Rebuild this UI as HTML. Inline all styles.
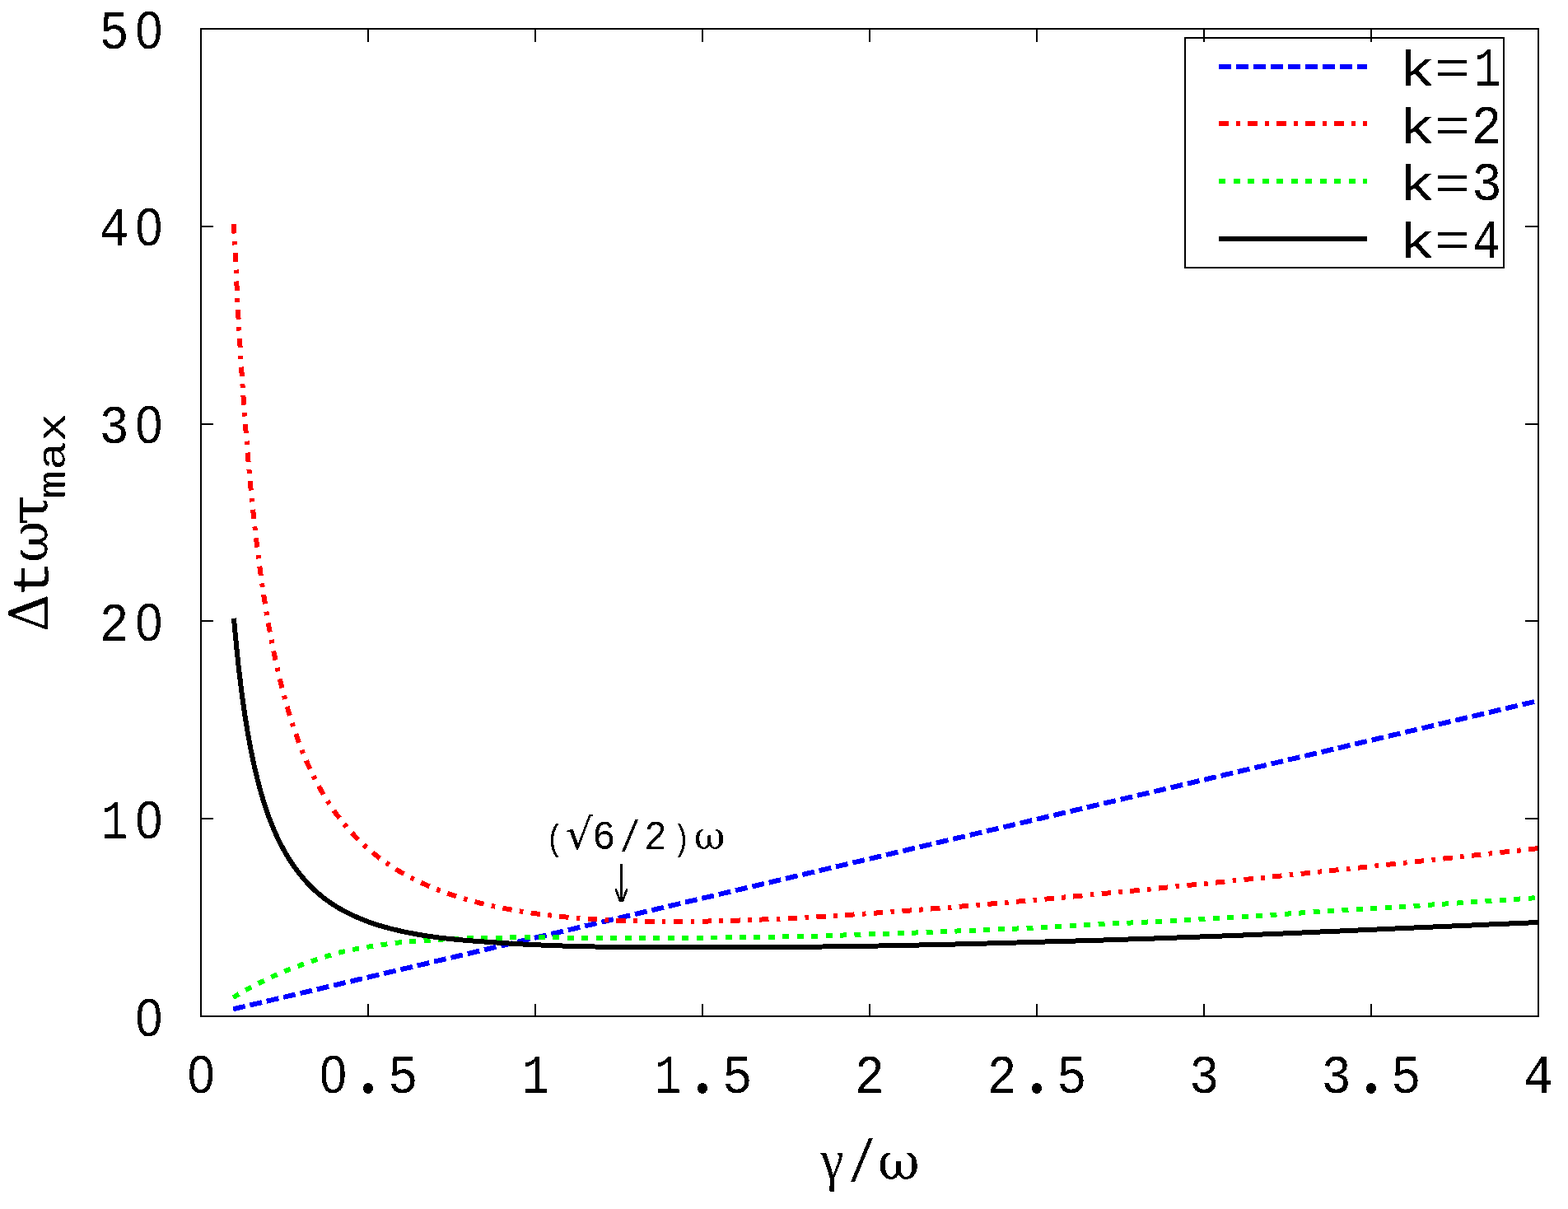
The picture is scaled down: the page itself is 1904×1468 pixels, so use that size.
<!DOCTYPE html>
<html lang="en"><head><meta charset="utf-8"><title>Maximum time step versus damping ratio</title>
<style>
html,body{margin:0;padding:0;background:#fff;}
body{width:1904px;height:1468px;overflow:hidden;}
svg{display:block;}
text{fill:#000;font-family:"Liberation Mono", monospace;}
.sym{font-family:"Liberation Serif", serif;}
.z{font-family:"Liberation Sans", sans-serif;}
.grk{font-family:"DejaVu Serif", "Liberation Serif", serif;}
.fr{fill:none;stroke:#000;stroke-width:2;shape-rendering:crispEdges;}
.cv{fill:none;stroke-width:6.00;stroke-linejoin:round;stroke-linecap:butt;shape-rendering:crispEdges;}
</style></head><body>
<svg width="1904" height="1468" viewBox="0 0 1904 1468">
<rect x="0" y="0" width="1904" height="1468" fill="#fff"/>
<g id="curves">
<path class="cv" stroke="#0000ff" stroke-dasharray="14.921 5.969" d="M283.1,1225.3L284.1,1225.1L1867.5,851.0"/>
<path class="cv" stroke="#ff0000" stroke-dasharray="11.447 9.357 4.579 9.357" d="M284.1,272.1L284.1,273.1L284.6,284.8L285.1,296.4L285.6,307.9L286.2,319.2L286.7,330.3L287.2,341.4L287.8,352.2L288.3,363.0L288.9,373.6L289.4,384.1L290.0,394.5L290.6,404.7L291.2,414.8L291.8,424.8L292.4,434.7L293.0,444.4L293.6,454.0L294.2,463.5L294.8,472.9L295.5,482.2L296.1,491.3L296.8,500.3L297.4,509.3L298.1,518.1L298.8,526.8L299.5,535.4L300.1,543.9L300.9,552.3L301.6,560.6L302.3,568.7L303.0,576.8L303.8,584.8L304.5,592.7L305.3,600.5L306.0,608.1L306.8,615.7L307.6,623.2L308.4,630.6L309.2,637.9L310.0,645.2L310.8,652.3L311.7,659.3L312.5,666.3L313.4,673.2L314.2,679.9L315.1,686.6L316.0,693.3L316.9,699.8L317.8,706.2L318.7,712.6L319.7,718.9L320.6,725.1L321.6,731.2L322.5,737.3L323.5,743.3L324.5,749.2L325.5,755.0L326.5,760.8L327.6,766.5L328.6,772.1L329.7,777.6L330.7,783.1L331.8,788.5L332.9,793.8L334.0,799.1L335.2,804.3L336.3,809.5L337.4,814.5L338.6,819.6L339.8,824.5L341.0,829.4L342.2,834.2L343.4,839.0L344.7,843.7L345.9,848.3L347.2,852.9L348.5,857.4L349.8,861.9L351.1,866.3L352.4,870.7L353.8,875.0L355.2,879.2L356.5,883.4L357.9,887.5L359.4,891.6L360.8,895.6L362.3,899.6L363.7,903.6L365.2,907.4L366.7,911.3L368.3,915.0L369.8,918.8L371.4,922.4L373.0,926.1L374.6,929.7L376.2,933.2L377.9,936.7L379.5,940.1L381.2,943.5L382.9,946.9L384.7,950.2L386.4,953.5L388.2,956.7L390.0,959.9L391.8,963.0L393.6,966.1L395.5,969.2L397.4,972.2L399.3,975.2L401.2,978.1L403.2,981.0L405.2,983.9L407.2,986.7L409.2,989.5L411.3,992.2L413.3,994.9L415.5,997.6L417.6,1000.2L419.8,1002.8L421.9,1005.4L424.2,1007.9L426.4,1010.4L428.7,1012.9L431.0,1015.3L433.3,1017.7L435.7,1020.0L438.0,1022.4L440.5,1024.7L442.9,1026.9L445.4,1029.1L447.9,1031.3L450.4,1033.5L453.0,1035.6L455.6,1037.7L458.2,1039.8L460.9,1041.8L463.6,1043.8L466.3,1045.8L469.1,1047.7L471.9,1049.6L474.7,1051.5L477.6,1053.4L480.5,1055.2L483.4,1057.0L486.4,1058.8L489.4,1060.5L492.5,1062.2L495.6,1063.9L498.7,1065.6L501.9,1067.2L505.1,1068.8L508.3,1070.4L511.6,1071.9L514.9,1073.4L518.3,1074.9L521.7,1076.4L525.2,1077.8L528.7,1079.2L532.2,1080.6L535.8,1082.0L539.4,1083.3L543.1,1084.7L546.8,1085.9L550.6,1087.2L554.4,1088.4L558.2,1089.6L562.2,1090.8L566.1,1092.0L570.1,1093.1L574.2,1094.2L578.3,1095.3L582.4,1096.4L586.6,1097.4L590.9,1098.4L595.2,1099.4L599.6,1100.4L604.0,1101.3L608.5,1102.3L613.0,1103.1L617.6,1104.0L622.2,1104.8L626.9,1105.7L631.7,1106.5L636.5,1107.2L641.4,1108.0L646.3,1108.7L651.3,1109.4L656.4,1110.1L661.5,1110.7L666.7,1111.3L672.0,1111.9L677.3,1112.5L682.7,1113.1L688.1,1113.6L693.6,1114.1L699.2,1114.6L704.9,1115.0L710.6,1115.4L716.4,1115.8L722.3,1116.2L728.2,1116.6L734.2,1116.9L740.3,1117.2L746.5,1117.5L752.7,1117.7L759.1,1118.0L765.5,1118.2L771.9,1118.4L778.5,1118.5L785.1,1118.6L791.9,1118.7L798.7,1118.8L805.6,1118.9L812.6,1118.9L819.6,1118.9L826.8,1118.9L834.0,1118.8L841.3,1118.8L848.8,1118.7L856.3,1118.6L863.9,1118.4L871.6,1118.3L879.4,1118.1L887.3,1117.8L895.3,1117.6L903.4,1117.3L911.5,1117.0L919.8,1116.7L928.2,1116.4L936.7,1116.0L945.3,1115.6L954.1,1115.2L962.9,1114.8L971.8,1114.3L980.8,1113.8L990.0,1113.3L999.3,1112.8L1008.6,1112.2L1018.1,1111.6L1027.8,1111.0L1037.5,1110.4L1047.4,1109.7L1057.3,1109.0L1067.4,1108.3L1077.7,1107.6L1088.0,1106.8L1098.5,1106.0L1109.1,1105.2L1119.9,1104.4L1130.7,1103.5L1141.8,1102.7L1152.9,1101.8L1164.2,1100.8L1175.6,1099.9L1187.2,1098.9L1198.9,1097.9L1210.8,1096.9L1222.8,1095.8L1234.9,1094.7L1247.2,1093.6L1259.7,1092.5L1272.3,1091.4L1285.1,1090.2L1298.0,1089.0L1311.1,1087.8L1324.4,1086.5L1337.8,1085.2L1351.4,1083.9L1365.1,1082.6L1379.0,1081.3L1393.1,1079.9L1407.4,1078.5L1421.9,1077.0L1436.5,1075.6L1451.3,1074.1L1466.3,1072.6L1481.5,1071.1L1496.8,1069.5L1512.4,1067.9L1528.1,1066.3L1544.1,1064.6L1560.2,1063.0L1576.6,1061.3L1593.1,1059.5L1609.9,1057.8L1626.8,1056.0L1644.0,1054.2L1661.4,1052.4L1679.0,1050.5L1696.8,1048.6L1714.9,1046.7L1733.1,1044.7L1751.6,1042.7L1770.3,1040.7L1789.3,1038.6L1808.5,1036.6L1827.9,1034.4L1847.6,1032.3L1867.5,1030.1"/>
<path class="cv" stroke="#00ff00" stroke-dasharray="7.970 9.465" d="M283.3,1211.2L284.1,1210.7L284.6,1210.4L285.1,1210.1L285.6,1209.7L286.2,1209.4L286.7,1209.1L287.2,1208.7L287.8,1208.4L288.3,1208.1L288.9,1207.7L289.4,1207.4L290.0,1207.0L290.6,1206.7L291.2,1206.3L291.8,1206.0L292.4,1205.6L293.0,1205.3L293.6,1204.9L294.2,1204.5L294.8,1204.2L295.5,1203.8L296.1,1203.5L296.8,1203.1L297.4,1202.7L298.1,1202.3L298.8,1202.0L299.5,1201.6L300.1,1201.2L300.9,1200.8L301.6,1200.4L302.3,1200.1L303.0,1199.7L303.8,1199.3L304.5,1198.9L305.3,1198.5L306.0,1198.1L306.8,1197.7L307.6,1197.3L308.4,1196.9L309.2,1196.5L310.0,1196.1L310.8,1195.7L311.7,1195.2L312.5,1194.8L313.4,1194.4L314.2,1194.0L315.1,1193.5L316.0,1193.1L316.9,1192.6L317.8,1192.2L318.7,1191.7L319.7,1191.3L320.6,1190.8L321.6,1190.3L322.5,1189.9L323.5,1189.4L324.5,1188.9L325.5,1188.4L326.5,1187.9L327.6,1187.4L328.6,1186.9L329.7,1186.4L330.7,1185.9L331.8,1185.4L332.9,1184.9L334.0,1184.4L335.2,1183.9L336.3,1183.4L337.4,1182.9L338.6,1182.4L339.8,1181.9L341.0,1181.4L342.2,1180.8L343.4,1180.3L344.7,1179.8L345.9,1179.3L347.2,1178.8L348.5,1178.2L349.8,1177.7L351.1,1177.2L352.4,1176.6L353.8,1176.1L355.2,1175.6L356.5,1175.0L357.9,1174.5L359.4,1174.0L360.8,1173.4L362.3,1172.9L363.7,1172.3L365.2,1171.8L366.7,1171.2L368.3,1170.7L369.8,1170.1L371.4,1169.5L373.0,1169.0L374.6,1168.4L376.2,1167.8L377.9,1167.3L379.5,1166.7L381.2,1166.1L382.9,1165.6L384.7,1165.0L386.4,1164.4L388.2,1163.8L390.0,1163.2L391.8,1162.6L393.6,1162.1L395.5,1161.5L397.4,1160.9L399.3,1160.3L401.2,1159.8L403.2,1159.2L405.2,1158.6L407.2,1158.1L409.2,1157.5L411.3,1157.0L413.3,1156.4L415.5,1155.9L417.6,1155.4L419.8,1154.9L421.9,1154.4L424.2,1153.9L426.4,1153.4L428.7,1152.9L431.0,1152.5L433.3,1152.0L435.7,1151.6L438.0,1151.1L440.5,1150.7L442.9,1150.3L445.4,1149.9L447.9,1149.5L450.4,1149.1L453.0,1148.7L455.6,1148.3L458.2,1148.0L460.9,1147.6L463.6,1147.3L466.3,1146.9L469.1,1146.5L471.9,1146.2L474.7,1145.8L477.6,1145.4L480.5,1145.0L483.4,1144.6L486.4,1144.3L489.4,1144.0L492.5,1143.8L495.6,1143.5L498.7,1143.2L501.9,1143.0L505.1,1142.8L508.3,1142.6L511.6,1142.3L514.9,1142.1L518.3,1141.9L521.7,1141.7L525.2,1141.4L528.7,1141.1L532.2,1140.9L535.8,1140.6L539.4,1140.4L543.1,1140.2L546.8,1140.0L550.6,1139.9L554.4,1139.7L558.2,1139.5L562.2,1139.3L566.1,1139.2L570.1,1139.1L574.2,1138.9L578.3,1138.8L582.4,1138.7L586.6,1138.7L590.9,1138.6L595.2,1138.5L599.6,1138.5L604.0,1138.5L608.5,1138.5L613.0,1138.5L617.6,1138.4L622.2,1138.4L626.9,1138.4L631.7,1138.4L636.5,1138.4L641.4,1138.4L646.3,1138.4L651.3,1138.4L656.4,1138.4L661.5,1138.4L666.7,1138.4L672.0,1138.4L677.3,1138.4L682.7,1138.5L688.1,1138.5L693.6,1138.5L699.2,1138.5L704.9,1138.5L710.6,1138.5L716.4,1138.6L722.3,1138.6L728.2,1138.6L734.2,1138.7L740.3,1138.7L746.5,1138.7L752.7,1138.8L759.1,1138.8L765.5,1138.8L771.9,1138.8L778.5,1138.9L785.1,1138.9L791.9,1138.9L798.7,1138.9L805.6,1138.9L812.6,1138.9L819.6,1138.9L826.8,1138.8L834.0,1138.8L841.3,1138.7L848.8,1138.7L856.3,1138.6L863.9,1138.5L871.6,1138.5L879.4,1138.4L887.3,1138.3L895.3,1138.2L903.4,1138.2L911.5,1138.0L919.8,1137.9L928.2,1137.8L936.7,1137.7L945.3,1137.5L954.1,1137.4L962.9,1137.2L971.8,1137.0L980.8,1136.8L990.0,1136.6L999.3,1136.3L1008.6,1136.0L1018.1,1135.7L1027.8,1135.4L1037.5,1135.1L1047.4,1134.7L1057.3,1134.4L1067.4,1134.1L1077.7,1133.7L1088.0,1133.3L1098.5,1133.0L1109.1,1132.6L1119.9,1132.2L1130.7,1131.7L1141.8,1131.3L1152.9,1130.9L1164.2,1130.4L1175.6,1130.0L1187.2,1129.5L1198.9,1129.0L1210.8,1128.5L1222.8,1128.0L1234.9,1127.5L1247.2,1126.9L1259.7,1126.3L1272.3,1125.7L1285.1,1125.0L1298.0,1124.3L1311.1,1123.6L1324.4,1122.9L1337.8,1122.2L1351.4,1121.5L1365.1,1120.9L1379.0,1120.2L1393.1,1119.5L1407.4,1118.8L1421.9,1118.0L1436.5,1117.2L1451.3,1116.4L1466.3,1115.5L1481.5,1114.7L1496.8,1113.8L1512.4,1112.8L1528.1,1111.9L1544.1,1110.9L1560.2,1109.8L1576.6,1108.7L1593.1,1107.6L1609.9,1106.5L1626.8,1105.5L1644.0,1104.5L1661.4,1103.4L1679.0,1102.3L1696.8,1101.2L1714.9,1100.1L1733.1,1098.9L1751.6,1097.7L1770.3,1096.5L1789.3,1095.2L1808.5,1094.0L1827.9,1092.7L1847.6,1091.3L1867.5,1090.0"/>
<path class="cv" stroke="#000000" d="M284.0,750.7L284.1,751.7L284.6,757.6L285.1,763.3L285.6,769.0L286.2,774.6L286.7,780.1L287.2,785.6L287.8,791.0L288.3,796.3L288.9,801.6L289.4,806.8L290.0,811.9L290.6,817.0L291.2,822.0L291.8,826.9L292.4,831.8L293.0,836.6L293.6,841.4L294.2,846.1L294.8,850.7L295.5,855.3L296.1,859.8L296.8,864.3L297.4,868.7L298.1,873.0L298.8,877.3L299.5,881.5L300.1,885.7L300.9,889.9L301.6,894.0L302.3,898.0L303.0,902.0L303.8,905.9L304.5,909.8L305.3,913.6L306.0,917.4L306.8,921.1L307.6,924.8L308.4,928.4L309.2,932.0L310.0,935.6L310.8,939.1L311.7,942.5L312.5,945.9L313.4,949.3L314.2,952.6L315.1,955.9L316.0,959.1L316.9,962.3L317.8,965.5L318.7,968.6L319.7,971.7L320.6,974.7L321.6,977.7L322.5,980.7L323.5,983.6L324.5,986.5L325.5,989.3L326.5,992.1L327.6,994.9L328.6,997.6L329.7,1000.3L330.7,1002.9L331.8,1005.5L332.9,1008.1L334.0,1010.7L335.2,1013.2L336.3,1015.7L337.4,1018.1L338.6,1020.5L339.8,1022.9L341.0,1025.3L342.2,1027.6L343.4,1029.9L344.7,1032.1L345.9,1034.3L347.2,1036.6L348.5,1038.7L349.8,1040.9L351.1,1043.0L352.4,1045.1L353.8,1047.2L355.2,1049.2L356.5,1051.2L357.9,1053.2L359.4,1055.2L360.8,1057.1L362.3,1059.0L363.7,1060.9L365.2,1062.8L366.7,1064.7L368.3,1066.5L369.8,1068.3L371.4,1070.0L373.0,1071.8L374.6,1073.5L376.2,1075.2L377.9,1076.9L379.5,1078.5L381.2,1080.1L382.9,1081.7L384.7,1083.3L386.4,1084.8L388.2,1086.3L390.0,1087.8L391.8,1089.2L393.6,1090.7L395.5,1092.1L397.4,1093.4L399.3,1094.8L401.2,1096.1L403.2,1097.5L405.2,1098.7L407.2,1100.0L409.2,1101.3L411.3,1102.5L413.3,1103.7L415.5,1104.9L417.6,1106.0L419.8,1107.2L421.9,1108.3L424.2,1109.4L426.4,1110.5L428.7,1111.5L431.0,1112.6L433.3,1113.6L435.7,1114.6L438.0,1115.6L440.5,1116.6L442.9,1117.6L445.4,1118.5L447.9,1119.5L450.4,1120.4L453.0,1121.3L455.6,1122.1L458.2,1123.0L460.9,1123.8L463.6,1124.6L466.3,1125.4L469.1,1126.2L471.9,1127.0L474.7,1127.7L477.6,1128.4L480.5,1129.1L483.4,1129.8L486.4,1130.5L489.4,1131.2L492.5,1131.8L495.6,1132.4L498.7,1133.0L501.9,1133.6L505.1,1134.2L508.3,1134.8L511.6,1135.4L514.9,1135.9L518.3,1136.4L521.7,1136.9L525.2,1137.4L528.7,1137.9L532.2,1138.4L535.8,1138.8L539.4,1139.2L543.1,1139.6L546.8,1140.0L550.6,1140.4L554.4,1140.8L558.2,1141.1L562.2,1141.5L566.1,1141.8L570.1,1142.2L574.2,1142.5L578.3,1142.8L582.4,1143.1L586.6,1143.4L590.9,1143.7L595.2,1144.0L599.6,1144.3L604.0,1144.6L608.5,1144.9L613.0,1145.2L617.6,1145.5L622.2,1145.8L626.9,1146.1L631.7,1146.3L636.5,1146.6L641.4,1146.8L646.3,1147.1L651.3,1147.3L656.4,1147.5L661.5,1147.7L666.7,1147.9L672.0,1148.1L677.3,1148.3L682.7,1148.5L688.1,1148.7L693.6,1148.8L699.2,1149.0L704.9,1149.1L710.6,1149.3L716.4,1149.4L722.3,1149.5L728.2,1149.6L734.2,1149.7L740.3,1149.8L746.5,1149.9L752.7,1149.9L759.1,1150.0L765.5,1150.0L771.9,1150.1L778.5,1150.1L785.1,1150.1L791.9,1150.1L798.7,1150.2L805.6,1150.2L812.6,1150.1L819.6,1150.1L826.8,1150.1L834.0,1150.1L841.3,1150.0L848.8,1150.0L856.3,1149.9L863.9,1149.9L871.6,1149.9L879.4,1149.9L887.3,1149.9L895.3,1149.9L903.4,1150.0L911.5,1150.0L919.8,1150.0L928.2,1150.0L936.7,1150.0L945.3,1150.0L954.1,1149.9L962.9,1149.9L971.8,1149.8L980.8,1149.7L990.0,1149.6L999.3,1149.5L1008.6,1149.4L1018.1,1149.2L1027.8,1149.1L1037.5,1149.0L1047.4,1148.8L1057.3,1148.6L1067.4,1148.5L1077.7,1148.3L1088.0,1148.1L1098.5,1147.9L1109.1,1147.7L1119.9,1147.4L1130.7,1147.2L1141.8,1147.0L1152.9,1146.7L1164.2,1146.4L1175.6,1146.1L1187.2,1145.8L1198.9,1145.5L1210.8,1145.1L1222.8,1144.8L1234.9,1144.5L1247.2,1144.1L1259.7,1143.8L1272.3,1143.4L1285.1,1143.1L1298.0,1142.7L1311.1,1142.4L1324.4,1142.0L1337.8,1141.6L1351.4,1141.1L1365.1,1140.7L1379.0,1140.2L1393.1,1139.8L1407.4,1139.3L1421.9,1138.8L1436.5,1138.2L1451.3,1137.7L1466.3,1137.2L1481.5,1136.6L1496.8,1136.0L1512.4,1135.4L1528.1,1134.7L1544.1,1134.1L1560.2,1133.4L1576.6,1132.7L1593.1,1132.0L1609.9,1131.2L1626.8,1130.5L1644.0,1129.7L1661.4,1129.0L1679.0,1128.2L1696.8,1127.4L1714.9,1126.6L1733.1,1125.8L1751.6,1125.0L1770.3,1124.2L1789.3,1123.4L1808.5,1122.5L1827.9,1121.7L1847.6,1120.9L1867.5,1120.0"/>
</g>
<g id="axes">
<path class="fr" d="M244,1234V1219M244,35V51M447,1234V1219M447,35V51M650,1234V1219M650,35V51M853,1234V1219M853,35V51M1056,1234V1219M1056,35V51M1259,1234V1219M1259,35V51M1462,1234V1219M1462,35V51M1665,1234V1219M1665,35V51M1868,1234V1219M1868,35V51M244,1234H259M1868,1234H1852M244,994H259M1868,994H1852M244,754H259M1868,754H1852M244,515H259M1868,515H1852M244,275H259M1868,275H1852M244,35H259M1868,35H1852"/>
<rect class="fr" x="244" y="35" width="1624" height="1199"/>
</g>
<g id="legend">
<rect class="fr" x="1439" y="46" width="387" height="279"/>
<path class="cv" stroke-width="6" stroke="#0000ff" stroke-dasharray="15 6" d="M1480,81 H1660"/>
<path class="cv" stroke-width="6" stroke="#ff0000" stroke-dasharray="11.5 9.5 4.5 9.5" d="M1480,150 H1660"/>
<path class="cv" stroke-width="6" stroke="#00ff00" stroke-dasharray="8 9.5" d="M1480,220 H1660"/>
<path class="cv" stroke-width="6" stroke="#000000"  d="M1480,290 H1660"/>
</g>
<defs><filter id="bw" x="0" y="0" width="1904" height="1468" filterUnits="userSpaceOnUse" color-interpolation-filters="sRGB"><feComponentTransfer><feFuncA type="discrete" tableValues="0 1"/></feComponentTransfer></filter></defs>
<g id="labels" filter="url(#bw)">
<text transform="scale(0.907,1)" x="251.0" y="1327.3" font-size="66.5" ><tspan class="z" font-size="64.84">0</tspan></text>
<text transform="scale(0.907,1)" x="428.2 479.1 519.5" y="1327.3 1326.3 1327.3" font-size="66.5" ><tspan class="z" font-size="64.84">0</tspan><tspan class="sym" font-size="110.0">.</tspan>5</text>
<text transform="scale(0.907,1)" x="699.1" y="1327.3" font-size="66.5" ><tspan textLength="35.9" lengthAdjust="spacingAndGlyphs">1</tspan></text>
<text transform="scale(0.907,1)" x="876.3 926.7 967.2" y="1327.3 1326.3 1327.3" font-size="66.5" ><tspan textLength="35.9" lengthAdjust="spacingAndGlyphs">1</tspan><tspan class="sym" font-size="110.0">.</tspan>5</text>
<text transform="scale(0.907,1)" x="1144.3" y="1327.3" font-size="66.5" >2</text>
<text transform="scale(0.907,1)" x="1321.5 1374.3 1414.8" y="1327.3 1326.3 1327.3" font-size="66.5" >2<tspan class="sym" font-size="110.0">.</tspan>5</text>
<text transform="scale(0.907,1)" x="1592.0" y="1327.3" font-size="66.5" >3</text>
<text transform="scale(0.907,1)" x="1769.1 1822.0 1862.4" y="1327.3 1326.3 1327.3" font-size="66.5" >3<tspan class="sym" font-size="110.0">.</tspan>5</text>
<text transform="scale(0.907,1)" x="2039.6" y="1327.3" font-size="66.5" >4</text>
<text transform="scale(0.907,1)" x="181.5" y="1257.7" font-size="66.5" ><tspan class="z" font-size="64.84">0</tspan></text>
<text transform="scale(0.907,1)" x="135.4 181.5" y="1017.9" font-size="66.5" ><tspan textLength="35.9" lengthAdjust="spacingAndGlyphs">1</tspan><tspan class="z" font-size="64.84">0</tspan></text>
<text transform="scale(0.907,1)" x="133.0 181.5" y="778.1" font-size="66.5" >2<tspan class="z" font-size="64.84">0</tspan></text>
<text transform="scale(0.907,1)" x="133.0 181.5" y="538.3" font-size="66.5" >3<tspan class="z" font-size="64.84">0</tspan></text>
<text transform="scale(0.907,1)" x="133.0 181.5" y="298.5" font-size="66.5" >4<tspan class="z" font-size="64.84">0</tspan></text>
<text transform="scale(0.907,1)" x="133.0 181.5" y="58.7" font-size="66.5" >5<tspan class="z" font-size="64.84">0</tspan></text>
<text><tspan x="1698.3" y="103.9" font-size="61.8" textLength="44.5" lengthAdjust="spacingAndGlyphs">k</tspan><tspan x="1742.0" y="102.3" font-size="60.0" textLength="43.2" lengthAdjust="spacingAndGlyphs">=</tspan><tspan x="1790.1" y="103.9" font-size="66.5" textLength="32.4" lengthAdjust="spacingAndGlyphs">1</tspan></text>
<text><tspan x="1698.3" y="173.7" font-size="61.8" textLength="44.5" lengthAdjust="spacingAndGlyphs">k</tspan><tspan x="1742.0" y="172.1" font-size="60.0" textLength="43.2" lengthAdjust="spacingAndGlyphs">=</tspan><tspan x="1786.8" y="173.7" font-size="66.5" textLength="36.7" lengthAdjust="spacingAndGlyphs">2</tspan></text>
<text><tspan x="1698.3" y="243.2" font-size="61.8" textLength="44.5" lengthAdjust="spacingAndGlyphs">k</tspan><tspan x="1742.0" y="241.6" font-size="60.0" textLength="43.2" lengthAdjust="spacingAndGlyphs">=</tspan><tspan x="1787.1" y="243.2" font-size="66.5" textLength="36.7" lengthAdjust="spacingAndGlyphs">3</tspan></text>
<text><tspan x="1698.3" y="313.0" font-size="61.8" textLength="44.5" lengthAdjust="spacingAndGlyphs">k</tspan><tspan x="1742.0" y="311.4" font-size="60.0" textLength="43.2" lengthAdjust="spacingAndGlyphs">=</tspan><tspan x="1788.3" y="313.0" font-size="66.5" textLength="33.8" lengthAdjust="spacingAndGlyphs">4</tspan></text>
<text><tspan class="sym" x="996.5" y="1431.9" font-size="70.2" textLength="27.9" lengthAdjust="spacingAndGlyphs">γ</tspan><tspan x="1030.0" y="1435.1" font-size="71.9" textLength="33.0" lengthAdjust="spacingAndGlyphs">/</tspan><tspan class="grk" x="1065.9" y="1432.4" font-size="61.7" textLength="50.7" lengthAdjust="spacingAndGlyphs">ω</tspan></text>
<g transform="translate(57.6,765) rotate(-90)"><text><tspan class="grk" x="-2.2" y="0.0" font-size="64.5" textLength="45.9" lengthAdjust="spacingAndGlyphs">Δ</tspan><tspan x="39.5" y="0.6" font-size="62.8" textLength="45.2" lengthAdjust="spacingAndGlyphs">t</tspan><tspan class="grk" x="82.3" y="0.2" font-size="63.2" textLength="50.1" lengthAdjust="spacingAndGlyphs">ω</tspan><tspan class="grk" x="127.3" y="0.3" font-size="64.2" textLength="36.8" lengthAdjust="spacingAndGlyphs">τ</tspan><tspan x="159.3" y="21.2" font-size="48.7" textLength="104.1" lengthAdjust="spacingAndGlyphs">max</tspan></text></g>
<text><tspan x="662.7" y="1031.5" font-size="45.0" textLength="21.7" lengthAdjust="spacingAndGlyphs">(</tspan><tspan class="grk" x="686.4" y="1031.2" font-size="51.9" textLength="33.6" lengthAdjust="spacingAndGlyphs">√</tspan><tspan x="719.3" y="1031.4" font-size="50.0" textLength="28.2" lengthAdjust="spacingAndGlyphs">6</tspan><tspan x="752.5" y="1033.6" font-size="53.1" textLength="24.9" lengthAdjust="spacingAndGlyphs">/</tspan><tspan x="782.2" y="1031.3" font-size="50.0" textLength="27.5" lengthAdjust="spacingAndGlyphs">2</tspan><tspan x="817.1" y="1031.5" font-size="45.0" textLength="20.8" lengthAdjust="spacingAndGlyphs">)</tspan><tspan class="grk" x="842.8" y="1031.2" font-size="46.4" textLength="37.5" lengthAdjust="spacingAndGlyphs">ω</tspan></text>
<path d="M754.5,1049V1094.8" fill="none" stroke="#000" stroke-width="3" shape-rendering="crispEdges"/>
<path d="M747.5,1079.2L753.3,1094.8M761.5,1079.2L755.7,1094.8" fill="none" stroke="#000" stroke-width="2.7" shape-rendering="crispEdges"/>
</g>
</svg></body></html>
